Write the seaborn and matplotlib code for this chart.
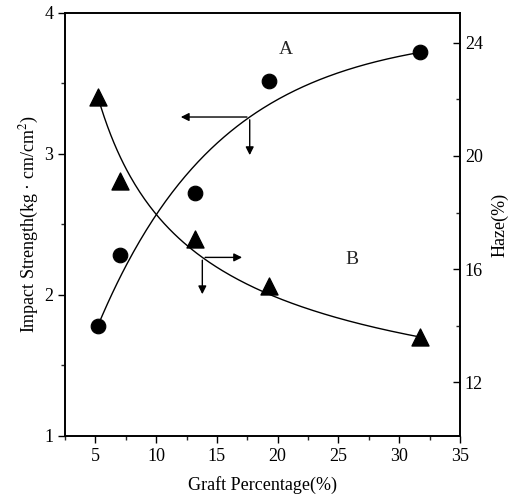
import numpy as np
import pandas as pd
import matplotlib
matplotlib.use('Agg')
import matplotlib.pyplot as plt
import seaborn as sns
from matplotlib.ticker import MultipleLocator

# data
graft = [5.2, 7.0, 13.2, 19.3, 31.7]
impact = [1.78, 2.28, 2.72, 3.52, 3.72]   # A, left axis
haze = [22.1, 19.1, 17.05, 15.4, 13.6]     # B, right axis


def fit_curve(x, y, basis, grid):
    # y = c + d*basis(x, p), forced through the first and last point,
    # p picked by least squares on all points
    x = np.asarray(x)
    y = np.asarray(y)
    best = None
    for p in grid:
        b = basis(x, p)
        d = (y[-1] - y[0]) / (b[-1] - b[0])
        c = y[0] - d * b[0]
        sse = np.sum((c + d * b - y) ** 2)
        if best is None or sse < best[0]:
            best = (sse, p, c, d)
    _, p, c, d = best
    xs = np.linspace(x.min(), x.max(), 200)
    return xs, c + d * basis(xs, p)


sns.set_theme(style='ticks')
plt.rcParams['font.family'] = ['Liberation Serif', 'DejaVu Serif']
plt.rcParams['mathtext.fontset'] = 'stix'

fig = plt.figure(figsize=(5.17, 4.96), dpi=100)
ax = fig.add_axes([0.1257, 0.121, 0.764, 0.853])
ax2 = ax.twinx()

xa, ya = fit_curve(graft, impact, lambda x, k: np.exp(-k * x), np.linspace(0.02, 0.4, 200))
xb, yb = fit_curve(graft, haze, lambda x, p: x ** -p, np.linspace(0.1, 2.0, 200))

sns.lineplot(x=xa, y=ya, ax=ax, color='black', linewidth=1.0)
sns.scatterplot(x=graft, y=impact, ax=ax, color='black', marker='o', s=110,
                edgecolor='black', zorder=5)
sns.lineplot(x=xb, y=yb, ax=ax2, color='black', linewidth=1.0)
sns.scatterplot(x=graft, y=haze, ax=ax2, color='black', marker='^', s=150,
                edgecolor='black', zorder=5)

ax.set_xlim(2.5, 35)
ax.set_ylim(1, 4)
ax2.set_ylim(10.1, 25.06)

ax.xaxis.set_major_locator(MultipleLocator(5))
ax.xaxis.set_minor_locator(MultipleLocator(2.5))
ax.yaxis.set_major_locator(MultipleLocator(1))
ax.yaxis.set_minor_locator(MultipleLocator(0.5))
ax2.set_yticks([12, 16, 20, 24])
ax2.yaxis.set_minor_locator(MultipleLocator(2))

for a in (ax, ax2):
    for s in a.spines.values():
        s.set_linewidth(1.2)
        s.set_color('black')
ax.tick_params(which='major', direction='out', length=5, width=1, labelsize=13, colors='black')
ax.tick_params(which='minor', direction='out', length=3, width=1)
ax2.tick_params(which='major', direction='in', length=5, width=1, labelsize=13, colors='black')
ax2.tick_params(which='minor', direction='in', length=3, width=1)

ax.set_xlabel('Graft Percentage(%)', fontsize=13, color='black', labelpad=8)
ax.set_ylabel('Impact Strength(kg · cm/cm$^2$)', fontsize=13, color='black', labelpad=2)
ax2.set_ylabel('Haze(%)', fontsize=13, color='black', labelpad=6)

# arrows start on each curve and point to its axis
arr = dict(arrowstyle='-|>', color='black', lw=1.0, mutation_scale=12)
ja_x = 17.7
ja_y = np.interp(ja_x, xa, ya)
ax.annotate('', xy=(11.8, ja_y), xytext=(ja_x, ja_y), arrowprops=arr)
ax.annotate('', xy=(ja_x, ja_y - 0.29), xytext=(ja_x, ja_y), arrowprops=arr)
jb_x = 13.8
jb_y = np.interp(jb_x, xb, yb)
ax2.annotate('', xy=(17.3, jb_y), xytext=(jb_x, jb_y), arrowprops=arr)
ax2.annotate('', xy=(jb_x, jb_y - 1.4), xytext=(jb_x, jb_y), arrowprops=arr)

ax.text(20.7, 3.74, 'A', fontsize=14, ha='center', va='center')
ax.text(26.1, 2.25, 'B', fontsize=14, ha='center', va='center')

fig.savefig('out.png', dpi=100)
